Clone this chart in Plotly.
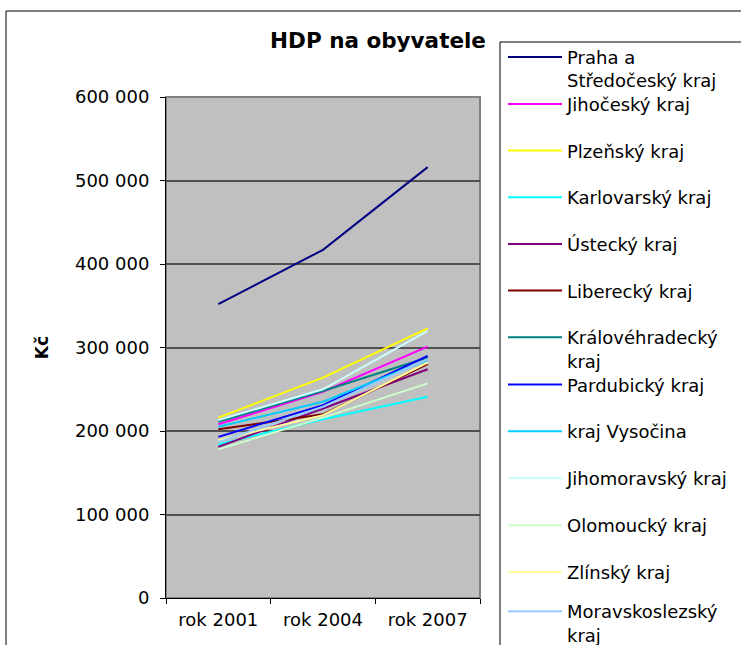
import plotly.graph_objects as go

# ---------------- data ----------------
years = ["rok 2001", "rok 2004", "rok 2007"]

praha = [352000, 417000, 516000]
jihocesky = [208000, 247000, 301000]
plzensky = [216000, 264000, 323000]
karlovarsky = [184000, 214000, 241000]
ustecky = [181000, 227000, 274000]
liberecky = [202000, 220000, 280000]
kralovehradecky = [211000, 248000, 288000]
pardubicky = [193000, 231000, 290000]
vysocina = [205000, 235000, 285000]
jihomoravsky = [213000, 250000, 320000]
olomoucky = [178000, 216000, 257000]
zlinsky = [189000, 219000, 282000]
moravskoslezsky = [187000, 229000, 286000]

names = [
    "Praha a<br>Středočeský kraj", "Jihočeský kraj", "Plzeňský kraj",
    "Karlovarský kraj", "Ústecký kraj", "Liberecký kraj",
    "Královéhradecký<br>kraj", "Pardubický kraj", "kraj Vysočina",
    "Jihomoravský kraj", "Olomoucký kraj", "Zlínský kraj",
    "Moravskoslezský<br>kraj",
]
series = [praha, jihocesky, plzensky, karlovarsky, ustecky, liberecky,
          kralovehradecky, pardubicky, vysocina, jihomoravsky, olomoucky,
          zlinsky, moravskoslezsky]
colors = ["#000080", "#FF00FF", "#FFFF00", "#00FFFF", "#800080", "#800000",
          "#008080", "#0000FF", "#00CCFF", "#CCFFFF", "#CCFFCC", "#FFFF99",
          "#99CCFF"]

# ---------------- layout geometry (pixels) ----------------
W, H = 741, 645
L, R, T, B = 166, 480, 97, 598  # plot area edges


def px(x):
    return (x - L) / (R - L)


def py(y):
    return (B - y) / (B - T)


FONT = "DejaVu Sans"
legend_line_y = [55.7, 102.7, 149.3, 196, 242.7, 289.3, 336, 383.3, 430,
                 476.7, 524, 570.7, 610]

fig = go.Figure()
layout_legends = {}
for i, (name, vals, col) in enumerate(zip(names, series, colors)):
    key = "legend" if i == 0 else f"legend{i + 1}"
    fig.add_trace(go.Scatter(
        x=years, y=vals, name=name, mode="lines",
        line=dict(color=col, width=2),
        legend=key,
    ))
    layout_legends[key] = dict(
        x=px(503), y=py(legend_line_y[i] - 17), xanchor="left", yanchor="top",
        bgcolor="rgba(0,0,0,0)", borderwidth=0, valign="top",
        font=dict(family=FONT, size=18, color="#000000"),
        itemwidth=54,
    )

fig.update_layout(
    width=W, height=H,
    margin=dict(l=L, r=W - R, t=T, b=H - B, pad=0, autoexpand=False),
    paper_bgcolor="#FFFFFF",
    plot_bgcolor="#C0C0C0",
    separators=", ",
    showlegend=True,
    title=dict(
        text="<b>HDP na obyvatele</b>",
        x=px(378), xanchor="center", xref="paper",
        y=1 - 40 / H, yanchor="middle", yref="container",
        font=dict(family=FONT, size=21.5, color="#000000"),
    ),
    xaxis=dict(
        type="category", range=[-0.5, 2.5],
        showgrid=False, showline=True, linecolor="#000000", linewidth=1,
        ticks="outside", ticklen=5, tickcolor="#000000", tickson="boundaries",
        tickfont=dict(family=FONT, size=18, color="#000000"),
        ticklabelstandoff=5,
        zeroline=False,
    ),
    yaxis=dict(
        range=[0, 600000], dtick=100000, tickformat=",d",
        showgrid=True, gridcolor="#505050", gridwidth=1.5,
        showline=True, linecolor="#000000", linewidth=1,
        ticks="outside", ticklen=5, tickcolor="#000000",
        tickfont=dict(family=FONT, size=18, color="#000000"),
        ticklabelstandoff=7,
        zeroline=False,
        title=dict(text="<b>Kč</b>", standoff=22,
                   font=dict(family=FONT, size=17, color="#000000")),
    ),
    **layout_legends,
)

# chart area border, plot-area border and legend box
fig.add_shape(type="rect", xref="paper", yref="paper",
              x0=px(6), x1=px(760), y0=py(660), y1=py(11),
              line=dict(color="#000000", width=1), layer="below")
fig.add_shape(type="rect", xref="paper", yref="paper",
              x0=0, x1=1, y0=0, y1=1,
              line=dict(color="#808080", width=2), layer="below")
fig.add_shape(type="rect", xref="paper", yref="paper",
              x0=px(500), x1=px(760), y0=py(660), y1=py(42),
              line=dict(color="#000000", width=1), fillcolor="#FFFFFF",
              layer="below")

fig.write_html("out.html", config={"displayModeBar": False},
               post_script="document.body.style.margin='0px';")
